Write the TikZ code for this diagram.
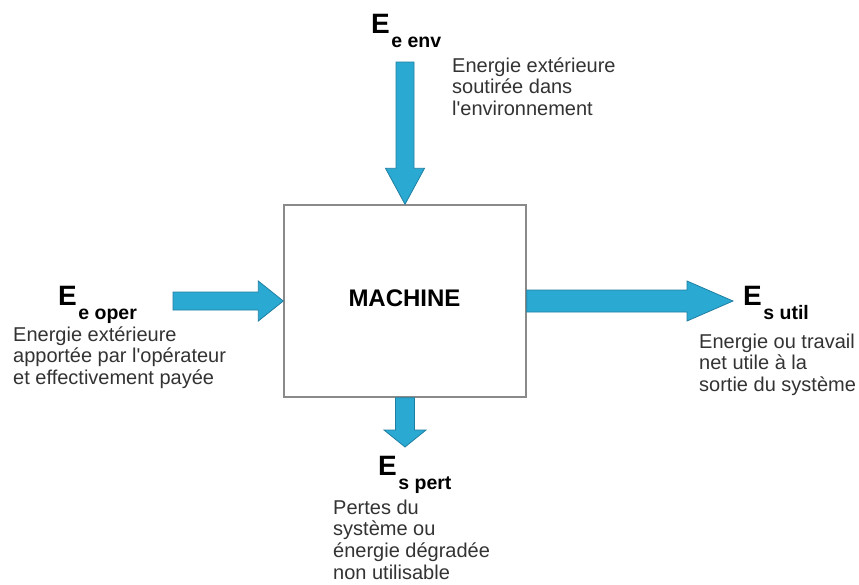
\documentclass[tikz,border=0pt]{standalone}
\usepackage{fontspec}
\setmainfont{Liberation Sans}
\usetikzlibrary{calc}

\definecolor{flowfill}{HTML}{2AAAD3}
\definecolor{flowedge}{HTML}{1F7FA2}
\definecolor{boxedge}{HTML}{8A8A8A}
\definecolor{desctext}{HTML}{333333}

\tikzset{
  flow/.style={fill=flowfill, draw=flowedge, line width=0.8pt, line join=miter},
  machinebox/.style={draw=boxedge, line width=1.4pt, fill=white},
  elabel/.style={anchor=base west, inner sep=0pt, text=black},
  % multi-line notes: the base anchor sits on the last line
  desc/.style={anchor=base west, inner sep=0pt, align=left, text=desctext,
    font=\fontsize{20}{21.6}\selectfont},
}

% energy symbol: large bold E with a lowered bold index
\newcommand\energy[1]{{\fontsize{28}{28}\selectfont\bfseries E}\hspace{1.5pt}\raisebox{-14pt}{\fontsize{19.5}{20}\selectfont\bfseries #1}}

% block arrow from #1 to #2: shaft half width #3, head half width #4, head length #5
\newcommand\blockarrow[5]{%
  \coordinate (hb) at ($(#2)!#5!(#1)$);
  \path[flow] ($(#1)!#3!90:(#2)$) -- ($(hb)!#3!-90:(#1)$) -- ($(hb)!#4!-90:(#1)$)
    -- (#2) -- ($(hb)!#4!90:(#1)$) -- ($(hb)!#3!90:(#1)$) -- ($(#1)!#3!-90:(#2)$) -- cycle;
}

\begin{document}
\begin{tikzpicture}[x=1pt, y=-1pt]
  \useasboundingbox[fill=white] (0,0) rectangle (859,584);

  % the machine
  \node[machinebox, minimum width=242pt, minimum height=192pt] (box) at (405,301) {};
  \node[font=\fontsize{24}{24}\selectfont\bfseries] (mach) at (404.5,298) {MACHINE};

  % free ends of the incoming arrows, tips of the outgoing arrows
  \coordinate (envtail) at (405,62);
  \coordinate (opertail) at (173,301);
  \coordinate (utiltip) at (733,301);
  \coordinate (perttip) at (405,447);

  % flows
  \blockarrow{envtail}{box.north}{9pt}{19.5pt}{36pt}
  \blockarrow{opertail}{box.west}{9pt}{20pt}{25pt}
  \blockarrow{box.east}{utiltip}{11pt}{20pt}{46pt}
  \blockarrow{box.south}{perttip}{9.5pt}{21pt}{17pt}

  % environment energy
  \node[elabel] (eenv) at (371,33) {\energy{e env}};
  \node[desc] (denv) at (452,115.2) {Energie extérieure\\soutirée dans\\l\textquotesingle environnement};

  % operator energy
  \node[elabel] (eoper) at (58,305) {\energy{e oper}};
  \node[desc] (doper) at (13,384.2) {Energie extérieure\\apportée par l\textquotesingle opérateur\\et effectivement payée};

  % useful output
  \node[elabel] (eutil) at (743,305) {\energy{s util}};
  \node[desc] (dutil) at (699,391.2) {Energie ou travail\\net utile à la\\sortie du système};

  % losses
  \node[elabel] (epert) at (378,475) {\energy{s pert}};
  \node[desc] (dpert) at (333,579) {Pertes du\\système ou\\énergie dégradée\\non utilisable};
\end{tikzpicture}
\end{document}
